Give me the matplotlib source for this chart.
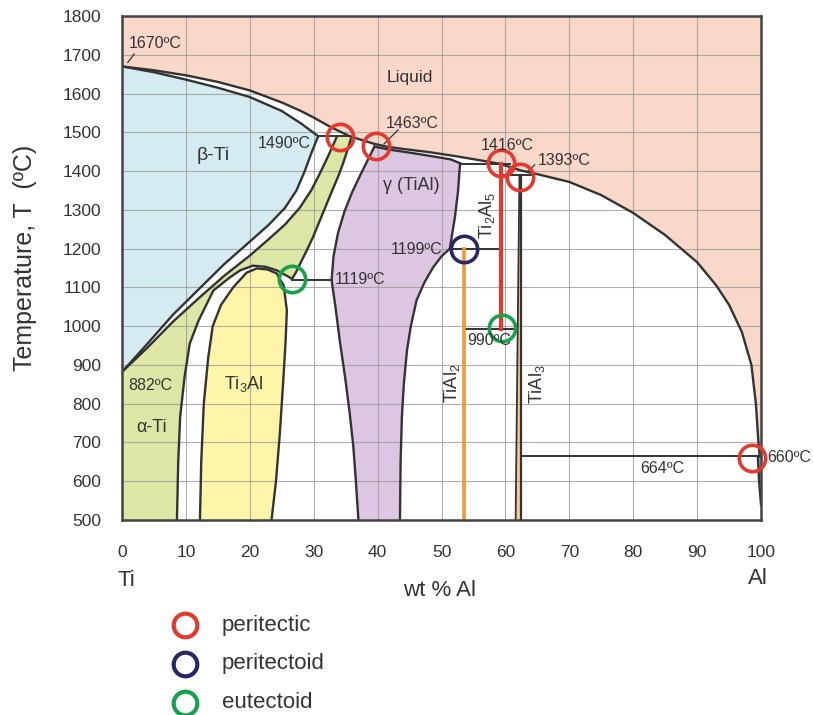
import matplotlib
matplotlib.use("Agg")
import matplotlib.pyplot as plt

plt.rcParams["font.family"] = ["Liberation Sans", "DejaVu Sans"]
plt.rcParams["mathtext.fontset"] = "custom"
plt.rcParams["mathtext.rm"] = "Liberation Sans"
plt.rcParams["mathtext.default"] = "regular"

# phase boundaries (wt % Al, temperature in C)
liquidus_x = [0, 5, 10, 15, 20, 25, 28, 30, 32.6, 35.6, 39.3, 41.4, 44, 48, 52, 56, 59.3,
              62.3, 65, 70, 75, 80, 85, 90, 93, 95, 97, 98.5, 99.2, 99.6, 99.8]
liquidus_t = [1670, 1660, 1647, 1630, 1608, 1577, 1555, 1538, 1514, 1490, 1471, 1463, 1457,
              1449, 1439, 1428, 1418, 1402, 1392, 1372, 1338, 1292, 1235, 1165, 1105, 1055,
              985, 900, 800, 700, 664]

beta_sol_x = [0, 5, 10, 15, 20, 25, 28, 30.7]
beta_sol_t = [1670, 1655, 1636, 1615, 1591, 1555, 1523, 1490]

beta_tr_x = [0, 4, 8, 12, 16, 20, 23, 25.5, 27.3, 28.6, 29.6, 30.7]
beta_tr_t = [882, 955, 1030, 1095, 1160, 1218, 1262, 1305, 1350, 1400, 1445, 1490]

alpha_tr_x = [0, 4, 8, 12, 16, 20, 23, 25.5, 27.8, 29.6, 31, 32.3, 33.6]
alpha_tr_t = [882, 945, 1012, 1072, 1130, 1182, 1225, 1262, 1305, 1350, 1395, 1440, 1488]

alpha_r_x = [35.8, 35.3, 34.6, 33.8, 32.9, 31.9, 30.9, 29.9, 28.9, 28, 27.2, 26.6]
alpha_r_t = [1482, 1455, 1420, 1385, 1350, 1310, 1270, 1230, 1195, 1165, 1138, 1122]

dome_x = [8.6, 8.8, 9.1, 9.8, 10.6, 12, 14.3, 16.9, 18.5, 20.5, 22.5, 24.2, 26, 26.6]
dome_t = [500, 650, 766, 870, 955, 1015, 1092, 1126, 1144, 1156, 1153, 1144, 1128, 1122]

ti3al_x = [12.2, 12.4, 12.8, 13.5, 14.2, 15.5, 17.4, 19.5, 21.1, 22.8, 24.2, 25.3, 25.8,
           25.6, 25.2, 24.7, 24.1, 23.4]
ti3al_t = [500, 650, 800, 920, 1000, 1055, 1100, 1138, 1149, 1146, 1136, 1105, 1041,
           960, 850, 723, 600, 500]

gamma_l_x = [39.5, 38.5, 37.3, 36, 34.8, 33.8, 33.1, 32.8, 33.4, 34.1, 34.9, 35.6, 36.2,
             36.6, 37]
gamma_l_t = [1463, 1430, 1390, 1345, 1295, 1240, 1180, 1119, 1050, 960, 870, 780, 690,
             600, 500]

gamma_top_x = [39.5, 42, 46, 49, 51.5, 52.9]
gamma_top_t = [1463, 1455, 1445, 1437, 1430, 1420]

gamma_r_x = [52.9, 52.6, 52.1, 51.3, 50, 48.7, 47.3, 46.1, 45.2, 44.6, 44.1, 43.8, 43.6, 43.5]
gamma_r_t = [1420, 1350, 1281, 1200, 1180, 1152, 1112, 1067, 1000, 938, 850, 766, 650, 500]

tial3_l_x = [62.2, 62.0, 61.8, 61.6]
tial3_l_t = [1390, 1100, 800, 500]
tial3_r_x = [62.5, 62.5]
tial3_r_t = [1390, 500]

al_ss_x = [99.5, 99.7, 100]
al_ss_t = [664, 600, 540]

# horizontal invariant lines: (x start, x end, temperature)
tie_lines = [(30.7, 35.7, 1490), (26.6, 32.8, 1119), (52.9, 60.7, 1418),
             (59.3, 64.0, 1390), (51.3, 59.3, 1199), (53.5, 61.5, 992),
             (62.5, 99.7, 664)]

# line compounds
ti2al5_x, ti2al5_t = 59.3, (992, 1418)
tial2_x, tial2_t = 53.5, (500, 1199)

# invariant points
peritectic_x = [34.1, 39.7, 59.3, 62.3, 98.6]
peritectic_t = [1488, 1464, 1420, 1386, 659]
peritectoid_x = [53.5]
peritectoid_t = [1199]
eutectoid_x = [26.6, 59.4]
eutectoid_t = [1121, 994]

legend_labels = ["peritectic", "peritectoid", "eutectoid"]

RED = "#e5392f"
NAVY = "#272766"
GREEN = "#15a24a"
LINE = "#333333"
TXT = "#333333"

fig = plt.figure(figsize=(8.13, 7.15), dpi=100)
ax = fig.add_axes([122 / 813, 1 - 520 / 715, 639 / 813, 504 / 715])

# region fills
ax.fill(liquidus_x + [100, 100, 0], liquidus_t + [660, 1800, 1800], color="#f9d8c9", lw=0, zorder=1)
ax.fill(beta_sol_x + beta_tr_x[::-1], beta_sol_t + beta_tr_t[::-1], color="#d5ebf2", lw=0, zorder=1)
ax.fill(alpha_tr_x + [35.7] + alpha_r_x + dome_x[::-1] + [0],
        alpha_tr_t + [1487] + alpha_r_t + dome_t[::-1] + [500],
        color="#dde6a5", lw=0, zorder=1)
ax.fill(ti3al_x, ti3al_t, color="#fff5a8", lw=0, zorder=1)
ax.fill(gamma_l_x + gamma_r_x[::-1] + gamma_top_x[::-1],
        gamma_l_t + gamma_r_t[::-1] + gamma_top_t[::-1],
        color="#ddc6e1", lw=0, zorder=1)
ax.fill(tial3_l_x + tial3_r_x[::-1], tial3_l_t + tial3_r_t[::-1], color="#f8c898", lw=0, zorder=1)
ax.fill(al_ss_x + [100], al_ss_t + [664], color="#9f9fd6", lw=0, zorder=1)

# boundaries
for xs, ts in [(liquidus_x, liquidus_t), (beta_sol_x, beta_sol_t), (beta_tr_x, beta_tr_t),
               (alpha_tr_x, alpha_tr_t), (alpha_r_x, alpha_r_t), (dome_x, dome_t),
               (ti3al_x, ti3al_t), (gamma_l_x, gamma_l_t), (gamma_top_x, gamma_top_t),
               (gamma_r_x, gamma_r_t), (al_ss_x, al_ss_t)]:
    ax.plot(xs, ts, color=LINE, lw=1.7, zorder=3, solid_joinstyle="round")
ax.plot(tial3_l_x, tial3_l_t, color=LINE, lw=1.3, zorder=3)
ax.plot(tial3_r_x, tial3_r_t, color=LINE, lw=1.6, zorder=3)
for x0, x1, t in tie_lines:
    ax.plot([x0, x1], [t, t], color=LINE, lw=1.4, zorder=3)

ax.plot([ti2al5_x, ti2al5_x], ti2al5_t, color=RED, lw=3, zorder=4)
ax.plot([tial2_x, tial2_x], tial2_t, color="#ef9a35", lw=2.6, zorder=4)

mk = dict(marker="o", ls="none", ms=19, mew=2.6, mfc="none", zorder=6, clip_on=False)
ax.plot(peritectic_x, peritectic_t, mec=RED, **mk)
ax.plot(peritectoid_x, peritectoid_t, mec=NAVY, **mk)
ax.plot(eutectoid_x, eutectoid_t, mec=GREEN, **mk)

# labels in the diagram
def lab(x, t, s, size=11.5, **kw):
    ax.text(x, t, s, fontsize=size, color=TXT, zorder=7, clip_on=False, **kw)

lab(1.0, 1730, "1670\u00baC", va="center")
ax.plot([0.9, 1.9], [1680, 1702], color=LINE, lw=0.9, zorder=3)
lab(45, 1642, "Liquid", size=12.5, ha="center", va="center")
lab(14.3, 1440, "\u03b2-Ti", size=14, ha="center", va="center")
lab(29.6, 1471, "1490\u00baC", ha="right", va="center")
lab(45.4, 1523, "1463\u00baC", ha="center", va="center")
ax.plot([41.0, 43.2], [1470, 1506], color=LINE, lw=0.9, zorder=3)
lab(45.2, 1363, "\u03b3 (TiAl)", size=13, ha="center", va="center")
lab(60.3, 1466, "1416\u00baC", ha="center", va="center")
lab(65.0, 1428, "1393\u00baC", ha="left", va="center")
ax.plot([63.5, 64.6], [1400, 1416], color=LINE, lw=0.9, zorder=3)
lab(57.1, 1286, r"Ti$_2$Al$_5$", size=13, ha="center", va="center", rotation=90)
lab(50.2, 1198, "1199\u00baC", ha="right", va="center")
lab(33.3, 1120, "1119\u00baC", ha="left", va="center")
lab(54.0, 963, "990\u00baC", ha="left", va="center")
lab(51.6, 853, r"TiAl$_2$", size=13, ha="center", va="center", rotation=90)
lab(65.0, 850, r"TiAl$_3$", size=13, ha="center", va="center", rotation=90)
lab(84.5, 633, "664\u00baC", ha="center", va="center")
lab(100.9, 662, "660\u00baC", ha="left", va="center")
lab(1.0, 848, "882\u00baC", ha="left", va="center")
lab(4.7, 739, "\u03b1-Ti", size=13, ha="center", va="center")
lab(19.0, 852, r"Ti$_3$Al", size=13, ha="center", va="center")

# axes
ax.set_xlim(0, 100)
ax.set_ylim(500, 1800)
ax.set_xticks(range(0, 101, 10))
ax.set_yticks(range(500, 1801, 100))
ax.set_axisbelow("line")
ax.grid(True, color="#9a9a9a", lw=0.8, alpha=0.8)
ax.tick_params(length=0, labelsize=12.5, labelcolor=TXT)
ax.tick_params(axis="x", pad=18)
ax.tick_params(axis="y", pad=15)
for sp in ax.spines.values():
    sp.set_color("#444444")
    sp.set_linewidth(1.8)
    sp.set_zorder(5)

fig.text(25 / 813, 1 - 258 / 715, "Temperature, T  (\u00baC)", rotation=90,
         fontsize=18, color=TXT, ha="center", va="center")
fig.text(440 / 813, 1 - 590 / 715, "wt % Al", fontsize=16, color=TXT, ha="center", va="center")
fig.text(126 / 813, 1 - 580 / 715, "Ti", fontsize=16, color=TXT, ha="center", va="center")
fig.text(758 / 813, 1 - 578 / 715, "Al", fontsize=16, color=TXT, ha="center", va="center")

# legend
for i, (name, col) in enumerate(zip(legend_labels, [RED, NAVY, GREEN])):
    y = 1 - (625 + 39 * i) / 715
    fig.lines.append(plt.Line2D([185 / 813], [y], transform=fig.transFigure, marker="o",
                                ms=17, mew=3, mfc="none", mec=col, ls="none"))
    fig.text(222 / 813, y, name, fontsize=16, color=TXT, ha="left", va="center")

fig.savefig("out.png", dpi=100)
